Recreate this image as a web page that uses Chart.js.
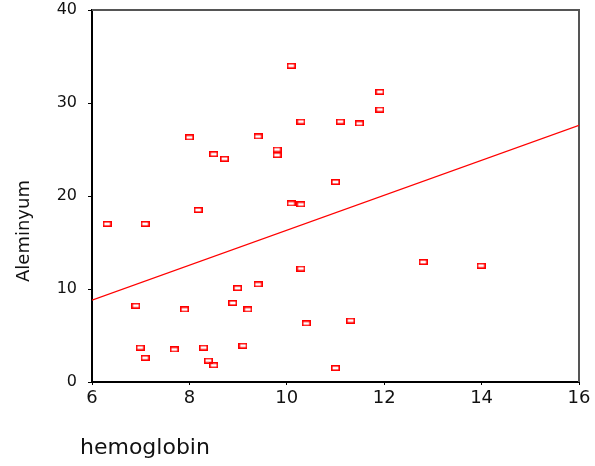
<!DOCTYPE html>
<html>
<head>
<meta charset="utf-8">
<script src="https://cdn.jsdelivr.net/npm/chart.js@4.4.1/dist/chart.umd.min.js"></script>
<style>
  body { margin: 0; background: #fff; }
  #wrap { width: 595px; height: 466px; }
</style>
</head>
<body>
<div id="wrap"><canvas id="scatterChart"></canvas></div>
<script>
// Values
const hemoglobin = [8.00, 8.50, 8.72, 9.41, 9.80, 9.80, 10.09, 10.29, 11.10, 11.49, 11.91, 11.91, 11.00,
  6.31, 7.09, 8.18, 10.09, 10.29, 6.90, 7.90, 8.89, 8.99, 9.20, 9.41,
  6.99, 7.09, 7.69, 8.29, 8.39, 8.50, 9.10, 10.29, 12.80, 13.99, 10.40, 11.31, 11.00];
const aleminyum = [26.3, 24.5, 24.0, 26.4, 25.0, 24.4, 34.0, 28.0, 28.0, 27.8, 31.2, 29.3, 21.5,
  17.0, 17.0, 18.5, 19.2, 19.1, 8.2, 7.8, 8.5, 10.1, 7.8, 10.5,
  3.7, 2.6, 3.5, 3.7, 2.3, 1.8, 3.9, 12.2, 12.9, 12.5, 6.3, 6.6, 1.5];

// Fit line end points
const fitX = [6, 16];
const fitY = [8.8, 27.6];

const xTicks = [6, 8, 10, 12, 14, 16];
const yTicks = [0, 10, 20, 30, 40];

const xTitle = 'hemoglobin';
const yTitle = 'Aleminyum';

// Small hollow red rectangle marker
function makeMarker() {
  const c = document.createElement('canvas');
  c.width = 9;
  c.height = 6;
  const g = c.getContext('2d');
  g.strokeStyle = '#ff0000';
  g.lineWidth = 1.6;
  g.strokeRect(0.8, 0.8, 7.4, 4.4);
  return c;
}

// Grey frame on the top and right sides, plus axis titles
const framePlugin = {
  id: 'frame',
  beforeDatasetsDraw(chart) {
    const a = chart.chartArea;
    const ctx = chart.ctx;
    ctx.save();
    ctx.strokeStyle = '#555';
    ctx.lineWidth = 2;
    ctx.beginPath();
    ctx.moveTo(a.left, a.top);
    ctx.lineTo(a.right, a.top);
    ctx.lineTo(a.right, a.bottom);
    ctx.stroke();
    ctx.restore();
  },
  afterDraw(chart) {
    const ctx = chart.ctx;
    ctx.save();
    ctx.fillStyle = '#111';
    ctx.font = '22px "DejaVu Sans"';
    ctx.textAlign = 'left';
    ctx.textBaseline = 'alphabetic';
    ctx.fillText(xTitle, 80, 454);
    ctx.translate(29, 231);
    ctx.rotate(-Math.PI / 2);
    ctx.font = '18px "DejaVu Sans"';
    ctx.textAlign = 'center';
    ctx.fillText(yTitle, 0, 0);
    ctx.restore();
  }
};

const points = hemoglobin.map((x, i) => ({ x: x, y: aleminyum[i] }));
const fitLine = fitX.map((x, i) => ({ x: x, y: fitY[i] }));

const ctx = document.getElementById('scatterChart').getContext('2d');
new Chart(ctx, {
  type: 'scatter',
  data: {
    datasets: [
      {
        data: points,
        pointStyle: makeMarker(),
        pointRadius: 4,
        pointHoverRadius: 4
      },
      {
        type: 'line',
        data: fitLine,
        borderColor: '#ff0000',
        borderWidth: 1.3,
        pointRadius: 0,
        fill: false
      }
    ]
  },
  options: {
    responsive: true,
    maintainAspectRatio: false,
    animation: false,
    layout: { padding: { left: 0, top: 10, right: 16, bottom: 0 } },
    plugins: {
      legend: { display: false },
      tooltip: { enabled: false }
    },
    scales: {
      x: {
        type: 'linear',
        min: 6,
        max: 16,
        afterBuildTicks: scale => { scale.ticks = xTicks.map(v => ({ value: v })); },
        afterFit: scale => {
          scale.height = 84;
          scale.paddingLeft = 0;
          scale.paddingRight = 0;
        },
        border: { color: '#000', width: 2 },
        grid: { drawOnChartArea: false, color: '#000', tickLength: 3 },
        ticks: {
          color: '#111',
          padding: 3,
          maxRotation: 0,
          font: { family: 'DejaVu Sans', size: 18 }
        }
      },
      y: {
        type: 'linear',
        min: 0,
        max: 40,
        afterBuildTicks: scale => { scale.ticks = yTicks.map(v => ({ value: v })); },
        afterFit: scale => {
          scale.width = 92;
          scale.paddingTop = 0;
          scale.paddingBottom = 0;
        },
        border: { color: '#000', width: 2 },
        grid: { drawOnChartArea: false, color: '#000', tickLength: 4 },
        ticks: {
          color: '#111',
          padding: 11,
          font: { family: 'DejaVu Sans', size: 16 }
        }
      }
    }
  },
  plugins: [framePlugin]
});
</script>
</body>
</html>
